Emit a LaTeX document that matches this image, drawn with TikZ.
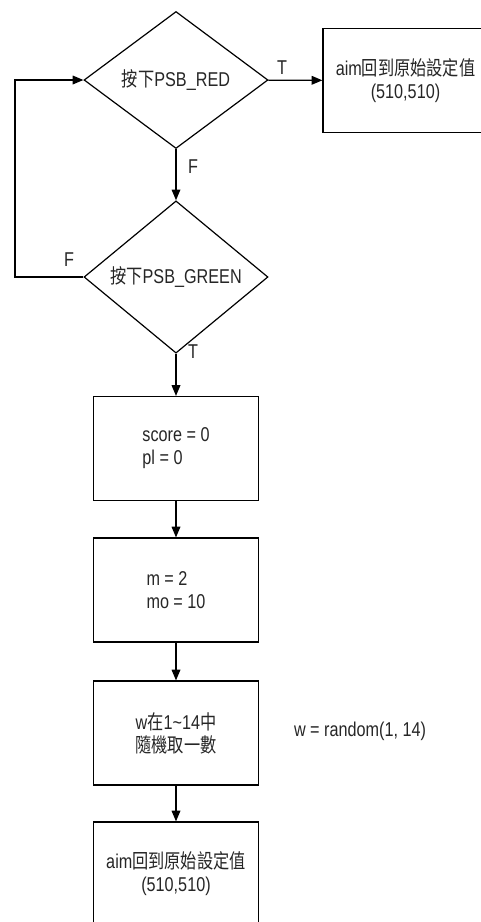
\documentclass[tikz,border=0pt]{standalone}
\usepackage{fontspec}
\setmainfont{Liberation Sans}[FakeStretch=0.81]
\newfontfamily\cjk{Noto Sans CJK TC}[FakeStretch=0.81]
\usetikzlibrary{shapes.geometric,arrows.meta}
\tikzset{
  decision/.style={diamond, draw, inner sep=0pt, minimum width=138pt, minimum height=102.75pt},
  process/.style={rectangle, draw, inner sep=0pt, minimum width=123.75pt, minimum height=78pt},
  flow/.style={-{Triangle[length=8pt,width=6.5pt]}},
}
\begin{document}
\begin{tikzpicture}[x=0.75pt, y=-0.75pt, line width=0.9pt,
    every node/.style={font=\fontsize{15}{17.25}\selectfont, text=black!85}]
  \useasboundingbox (0,0) rectangle (481,922);
  \clip (0,0) rectangle (481,922);
  \node[decision] (red) at (176,80) {{\cjk 按下}PSB\_RED};
  \node[decision] (green) at (176,277) {{\cjk 按下}PSB\_GREEN};
  \node[process, align=center] (aimtop) at (405.5,80.5) {aim{\cjk 回到原始設定值}\\(510,510)};
  \node[process, align=left] (score) at (176,448.5) {score = 0\\pl = 0};
  \node[process, align=left] (mval) at (176,590) {m = 2\\mo = 10};
  \node[process, align=center] (rand) at (176,733) {w{\cjk 在}1\textasciitilde14{\cjk 中}\\{\cjk 隨機取一數}};
  \node[process, align=center] (aimbot) at (176,874) {aim{\cjk 回到原始設定值}\\(510,510)};
  \node[anchor=west] (note) at (289,731) {w = random(1, 14)};
  \coordinate (loopx) at (15,180);
  \draw[flow] (red) -- (aimtop);
  \draw[flow] (red) -- (green);
  \draw[flow] (green.west) -| (loopx) |- (red.west);
  \draw[flow] (green) -- (score);
  \draw[flow] (score) -- (mval);
  \draw[flow] (mval) -- (rand);
  \draw[flow] (rand) -- (aimbot);
  \foreach \lbl/\x/\y [count=\i] in {T/282/68,F/193/167,F/69/260,T/193/352}
    \node (lab\i) at (\x,\y) {\lbl};
\end{tikzpicture}
\end{document}
